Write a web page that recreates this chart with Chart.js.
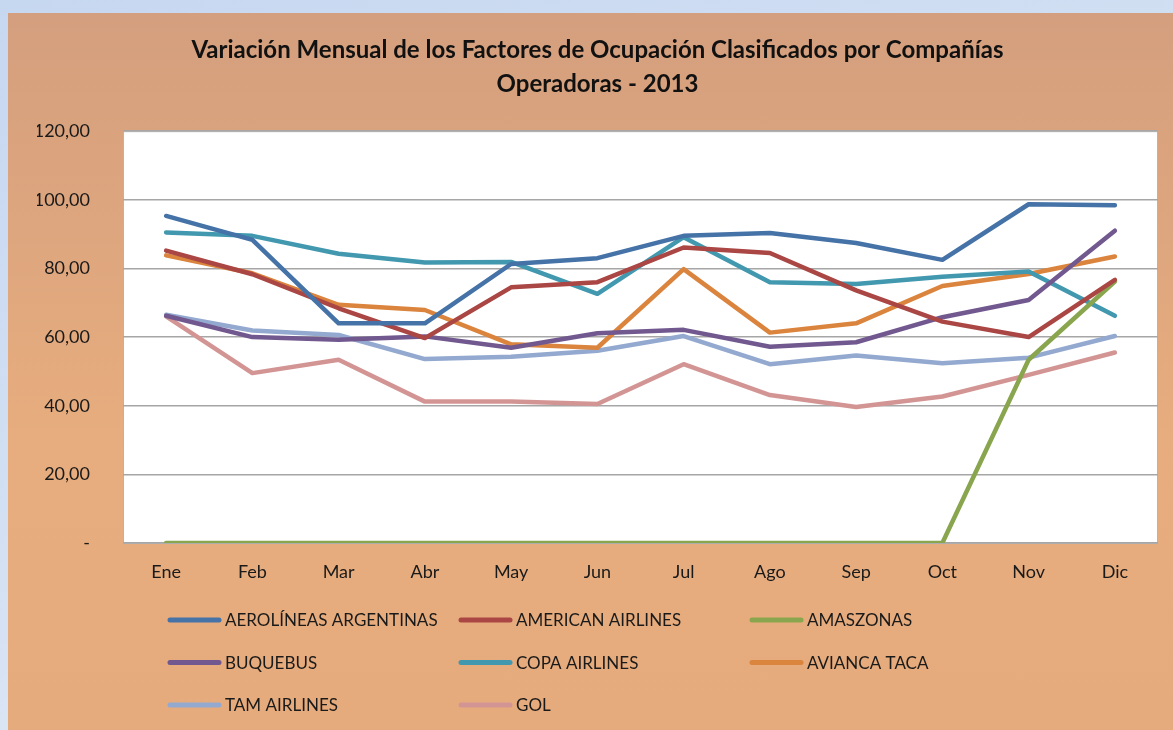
<!DOCTYPE html>
<html>
<head>
<meta charset="utf-8">
<script src="https://cdn.jsdelivr.net/npm/chart.js@4"></script>
<style>
  html, body { margin: 0; padding: 0; }
  body {
    width: 1173px; height: 730px; overflow: hidden; position: relative;
    background: linear-gradient(160deg, #c6d7f0 0%, #d4e1f3 50%, #e9eef6 100%);
  }
  #panel {
    position: absolute; left: 8px; top: 13px; width: 1165px; height: 717px;
    background: linear-gradient(180deg, #d49f7e 0%, #dea67e 30%, #e7ad7e 60%, #e6ab7c 100%);
  }
</style>
</head>
<body>
<div id="panel"><canvas id="myChart" width="1165" height="717"></canvas></div>
<script>
// months
const months = ['Ene', 'Feb', 'Mar', 'Abr', 'May', 'Jun', 'Jul', 'Ago', 'Sep', 'Oct', 'Nov', 'Dic'];

// load factor per company
const aerolineas = [95.3, 88.3, 64.0, 64.0, 81.3, 83.0, 89.5, 90.3, 87.4, 82.5, 98.7, 98.4];
const american   = [85.2, 78.3, 68.4, 59.7, 74.5, 76.0, 86.1, 84.5, 73.6, 64.5, 60.0, 76.7];
const amaszonas  = [0, 0, 0, 0, 0, 0, 0, 0, 0, 0, 53.4, 76.2];
const buquebus   = [66.2, 60.0, 59.2, 60.2, 56.9, 61.1, 62.1, 57.2, 58.5, 65.8, 70.8, 91.0];
const copa       = [90.5, 89.5, 84.3, 81.7, 81.9, 72.6, 89.1, 76.0, 75.5, 77.6, 79.1, 66.2];
const avianca    = [83.8, 78.6, 69.4, 67.9, 57.9, 56.9, 79.8, 61.3, 64.0, 74.9, 78.4, 83.5];
const tam        = [66.5, 61.9, 60.6, 53.6, 54.3, 56.0, 60.3, 52.1, 54.6, 52.4, 54.0, 60.3];
const gol        = [66.0, 49.5, 53.4, 41.2, 41.2, 40.5, 52.1, 43.1, 39.6, 42.7, 49.0, 55.5];

const names = ['AEROLÍNEAS ARGENTINAS', 'AMERICAN AIRLINES', 'AMASZONAS', 'BUQUEBUS',
               'COPA AIRLINES', 'AVIANCA TACA', 'TAM AIRLINES', 'GOL'];
const series = [aerolineas, american, amaszonas, buquebus, copa, avianca, tam, gol];
const lineColors = ['#4572a7', '#aa4643', '#89a54e', '#71588f', '#4198af', '#db843d', '#93a9cf', '#d39594'];

const fontFam = 'Lato, "Open Sans", sans-serif';

// white plot area
const plotBg = {
  id: 'plotBg',
  beforeDraw(chart) {
    const a = chart.chartArea, ctx = chart.ctx;
    ctx.save();
    ctx.fillStyle = '#ffffff';
    ctx.fillRect(a.left, a.top, a.right - a.left, a.bottom - a.top);
    ctx.strokeStyle = '#b4b4b4';
    ctx.lineWidth = 1;
    ctx.strokeRect(a.left + 0.5, a.top + 0.5, a.right - a.left - 1, a.bottom - a.top);
    ctx.restore();
  }
};

// legend in 3 columns like the original
const gridLegend = {
  id: 'gridLegend',
  afterDraw(chart) {
    const ctx = chart.ctx;
    ctx.save();
    ctx.font = '17px ' + fontFam;
    ctx.textBaseline = 'middle';
    ctx.textAlign = 'left';
    chart.data.datasets.forEach((ds, i) => {
      const x0 = 160 + (i % 3) * 291;
      const y = 607 + Math.floor(i / 3) * 42.5;
      ctx.strokeStyle = ds.borderColor;
      ctx.lineWidth = 5;
      ctx.lineCap = 'round';
      ctx.beginPath();
      ctx.moveTo(x0 + 2, y);
      ctx.lineTo(x0 + 51, y);
      ctx.stroke();
      ctx.fillStyle = '#1a1a1a';
      ctx.fillText(ds.label, x0 + 57, y + 1);
    });
    ctx.restore();
  }
};

new Chart('myChart', {
  type: 'line',
  data: {
    labels: months,
    datasets: series.map((s, i) => ({
      label: names[i],
      data: s,
      borderColor: lineColors[i],
      backgroundColor: lineColors[i],
      borderWidth: 4.5,
      pointRadius: 0,
      tension: 0,
      borderJoinStyle: 'round',
      borderCapStyle: 'round'
    }))
  },
  options: {
    responsive: false,
    animation: false,
    layout: { padding: { left: 29, right: 15, top: 0, bottom: 137 } },
    plugins: {
      legend: { display: false },
      tooltip: { enabled: false },
      title: {
        display: true,
        text: ['Variación Mensual de los Factores de Ocupación Clasificados por Compañías', 'Operadoras - 2013'],
        color: '#111111',
        font: { family: fontFam, size: 24, weight: 'bold', lineHeight: 1.42 },
        padding: { top: 20, bottom: 30 }
      }
    },
    scales: {
      x: {
        offset: true,
        grid: { display: false, drawTicks: false },
        border: { display: false },
        ticks: { color: '#1a1a1a', font: { family: fontFam, size: 18 }, padding: 18, maxRotation: 0 },
        afterFit(scale) { scale.height = 50; }
      },
      y: {
        min: 0,
        max: 120,
        grid: { color: '#a6a6a6', lineWidth: 1.5, drawTicks: false },
        border: { display: false },
        ticks: {
          stepSize: 20,
          color: '#1a1a1a',
          font: { family: fontFam, size: 18 },
          padding: 33,
          callback: v => v === 0 ? '-' : v.toFixed(2).replace('.', ',')
        },
        afterFit(scale) { scale.width = 86; }
      }
    }
  },
  plugins: [plotBg, gridLegend]
});
</script>
</body>
</html>
